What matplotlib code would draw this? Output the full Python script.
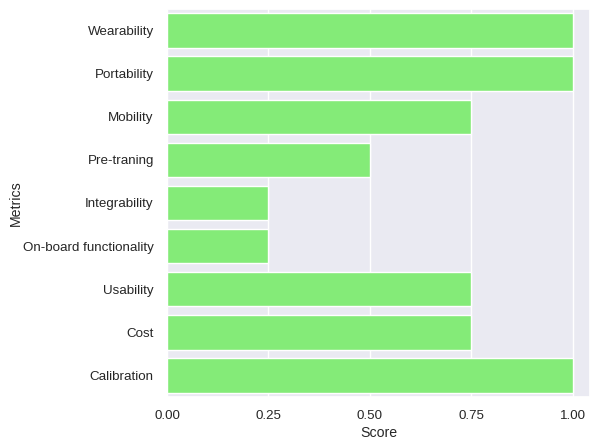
import matplotlib
matplotlib.use("Agg")
import matplotlib.pyplot as plt
import seaborn as sns
import pandas as pd

metrics = ['Wearability', 'Portability', 'Mobility', 'Pre-traning', 'Integrability',
           'On-board functionality', 'Usability', 'Cost', 'Calibration']
scores = [1.0, 1.0, 0.75, 0.5, 0.25, 0.25, 0.75, 0.75, 1.0]

df = pd.DataFrame({'Metrics': metrics, 'Score': scores})

sns.set_theme(style='darkgrid', rc={'xtick.labelsize': 9.6, 'ytick.labelsize': 9.6,
                                    'axes.labelsize': 10.2})
plt.rcParams['font.family'] = ['Liberation Sans', 'DejaVu Sans']

fig, ax = plt.subplots(figsize=(5.9, 4.41), dpi=100)
sns.barplot(data=df, x='Score', y='Metrics', color='#84EB78', saturation=1, ax=ax)
ax.set_xticks([0, 0.25, 0.5, 0.75, 1.0])
ax.set_xlim(0, 1.042)
ax.yaxis.labelpad = 0
ax.xaxis.labelpad = 3

fig.subplots_adjust(left=167 / 590, right=1.0, top=1 - 9 / 441, bottom=1 - 397 / 441)
fig.savefig('out.png', dpi=100)
